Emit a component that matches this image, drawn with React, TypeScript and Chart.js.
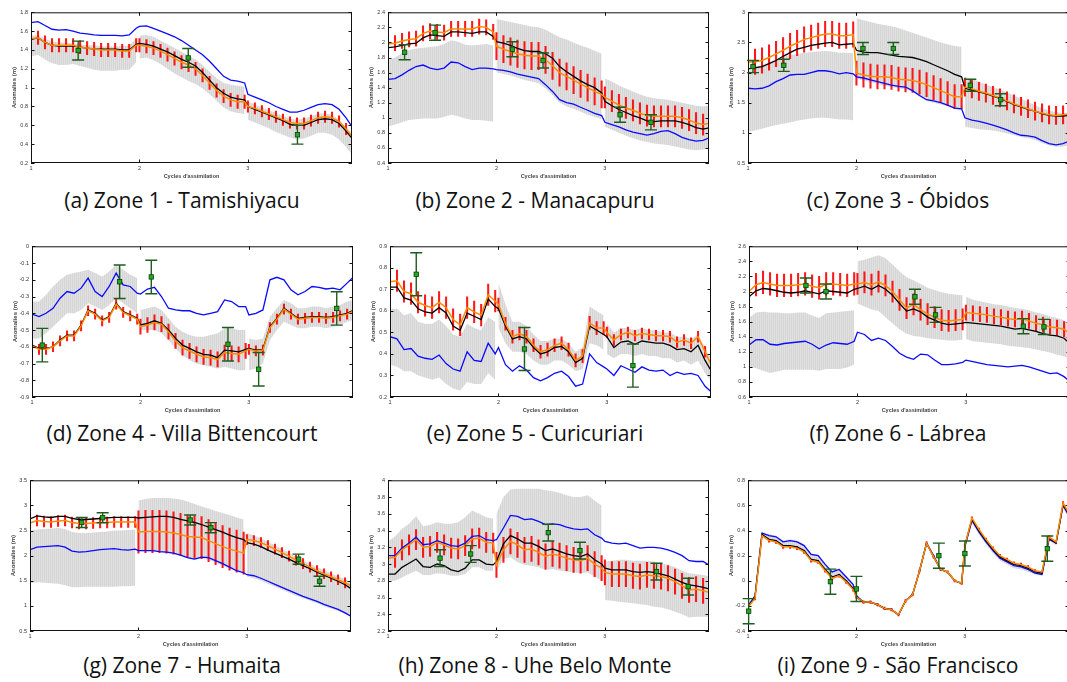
import React, { useEffect, useRef } from "react";
import { Chart, registerables } from "chart.js";
Chart.register(...registerables);
Chart.defaults.font.family = "'Liberation Sans', Arial, sans-serif";

// ---- sampling grid: 16 analyses per assimilation cycle ----
const CYCLES = [1, 2, 3];
const PER_CYCLE = 16;
const CYCLE_SPAN = 0.97;
const XS = CYCLES.flatMap((c) => Array.from({ length: PER_CYCLE }, (_, k) => c + (k * CYCLE_SPAN) / (PER_CYCLE - 1)));
const X_MIN = 1;
const X_MAX = 3.96;
const OBS_ERR = 0.1;

// ---- Zone 1 - Tamishiyacu ----
const A_BLUE = [1.69,1.70,1.66,1.62,1.61,1.615,1.60,1.58, 1.57,1.56,1.555,1.555,1.555,1.55,1.56,1.63, 1.65,1.655,1.63,1.60,1.57,1.54,1.50,1.45, 1.40,1.35,1.28,1.20,1.12,1.08,1.07,1.05, 0.93,0.90,0.87,0.84,0.80,0.77,0.74,0.74, 0.76,0.79,0.82,0.83,0.82,0.77,0.68,0.57];
const A_BLACK = [1.51,1.53,1.48,1.45,1.44,1.44,1.44,1.43, 1.42,1.41,1.41,1.41,1.41,1.40,1.40,1.46, 1.47,1.46,1.44,1.41,1.38,1.34,1.30,1.27, 1.23,1.16,1.08,1.00,0.94,0.90,0.88,0.87, 0.80,0.77,0.74,0.71,0.68,0.65,0.61,0.60, 0.60,0.63,0.66,0.67,0.66,0.62,0.54,0.45];
const A_ORANGE = [1.52,1.53,1.48,1.45,1.45,1.45,1.45,1.43, 1.42,1.41,1.40,1.40,1.40,1.39,1.39,1.45, 1.45,1.44,1.42,1.39,1.35,1.31,1.27,1.24, 1.20,1.13,1.05,0.97,0.91,0.87,0.85,0.85, 0.80,0.78,0.75,0.72,0.69,0.66,0.63,0.62, 0.62,0.65,0.68,0.69,0.68,0.64,0.56,0.47];
const A_HI = [1.55,1.56,1.52,1.49,1.48,1.48,1.47,1.46, 1.45,1.45,1.44,1.44,1.44,1.44,1.45,1.52, 1.55,1.56,1.54,1.50,1.46,1.42,1.38,1.34, 1.30,1.24,1.17,1.10,1.05,1.03,1.02,1.01, 0.85,0.82,0.79,0.76,0.73,0.70,0.67,0.66, 0.67,0.70,0.72,0.73,0.71,0.66,0.58,0.50];
const A_LO = [1.33,1.35,1.30,1.26,1.24,1.24,1.25,1.23, 1.21,1.19,1.18,1.18,1.18,1.19,1.19,1.27, 1.31,1.32,1.29,1.25,1.20,1.15,1.11,1.07, 1.04,0.99,0.93,0.86,0.79,0.75,0.73,0.72, 0.66,0.63,0.60,0.57,0.53,0.50,0.47,0.45, 0.46,0.49,0.52,0.52,0.50,0.45,0.37,0.28];
const A_RED_HW = [0.07, 0.07, 0.06];
const A_OBS_X = [1.435, 2.45, 3.457];
const A_OBS_Y = [1.394, 1.316, 0.50];

// ---- Zone 2 - Manacapuru ----
const B_BLUE = [1.51,1.52,1.57,1.63,1.68,1.70,1.66,1.64, 1.66,1.74,1.73,1.68,1.64,1.66,1.66,1.65, 1.64,1.63,1.61,1.58,1.56,1.54,1.52,1.44, 1.35,1.24,1.20,1.18,1.14,1.10,1.06,1.03, 0.94,0.91,0.88,0.84,0.81,0.79,0.77,0.79, 0.82,0.83,0.79,0.74,0.71,0.69,0.70,0.74];
const B_BLACK = [1.93,1.94,1.96,1.98,1.99,2.06,2.10,2.09, 2.08,2.14,2.14,2.13,2.12,2.14,2.14,2.08, 2.01,1.99,1.96,1.92,1.89,1.88,1.88,1.85, 1.79,1.68,1.61,1.55,1.49,1.44,1.40,1.33, 1.22,1.16,1.11,1.07,1.03,1.00,0.96,0.95, 0.96,0.96,0.96,0.94,0.91,0.87,0.85,0.87];
const B_ORANGE = [1.98,1.99,2.02,2.04,2.05,2.12,2.15,2.14, 2.13,2.18,2.18,2.18,2.18,2.21,2.20,2.14, 1.95,1.91,1.88,1.85,1.83,1.82,1.82,1.77, 1.69,1.60,1.55,1.50,1.45,1.40,1.35,1.31, 1.27,1.22,1.17,1.13,1.10,1.06,1.03,1.02, 1.02,1.02,1.02,1.00,0.97,0.93,0.91,0.93];
const B_HI = [1.76,1.80,1.86,1.90,1.92,1.93,1.94,1.95, 1.98,2.03,2.01,1.97,1.96,1.97,1.98,1.96, 2.31,2.29,2.27,2.25,2.23,2.21,2.20,2.17, 2.12,2.07,2.04,2.00,1.96,1.93,1.89,1.85, 1.52,1.48,1.43,1.39,1.35,1.31,1.28,1.26, 1.25,1.24,1.22,1.20,1.18,1.16,1.15,1.16];
const B_LO = [0.88,0.91,0.94,0.97,0.98,0.99,0.99,0.99, 1.01,1.04,1.02,0.99,0.97,0.97,0.96,0.95, 1.60,1.58,1.56,1.53,1.50,1.48,1.46,1.39, 1.30,1.20,1.15,1.12,1.08,1.04,1.01,0.98, 0.88,0.84,0.80,0.76,0.73,0.70,0.68,0.66, 0.65,0.64,0.62,0.60,0.58,0.57,0.58,0.60];
const B_RED_HW = [0.1, 0.18, 0.14];
const B_OBS_X = [1.153, 1.434, 2.147, 2.43, 3.14, 3.425];
const B_OBS_Y = [1.87, 2.13, 1.91, 1.76, 1.04, 0.94];

// ---- Zone 3 - Óbidos ----
const C_BLUE = [1.74,1.73,1.74,1.78,1.85,1.90,1.96,1.97, 1.97,2.00,2.03,2.03,2.01,1.98,2.00,1.98, 1.93,1.91,1.88,1.85,1.82,1.79,1.77,1.76, 1.70,1.62,1.55,1.53,1.50,1.46,1.41,1.40, 1.25,1.21,1.19,1.16,1.13,1.09,1.05,1.00, 0.96,0.95,0.93,0.87,0.82,0.80,0.82,0.87];
const C_BLACK = [2.06,2.08,2.10,2.15,2.20,2.27,2.33,2.39, 2.42,2.45,2.47,2.49,2.50,2.46,2.47,2.48, 2.37,2.34,2.33,2.33,2.31,2.29,2.27,2.26, 2.25,2.22,2.18,2.13,2.08,2.03,1.97,1.93, 1.74,1.71,1.68,1.65,1.61,1.57,1.52,1.47, 1.43,1.39,1.36,1.32,1.29,1.28,1.28,1.29];
const C_ORANGE = [2.17,2.18,2.20,2.25,2.31,2.37,2.44,2.49, 2.55,2.58,2.61,2.64,2.64,2.61,2.61,2.63, 1.99,1.96,1.94,1.93,1.93,1.92,1.89,1.88, 1.87,1.84,1.80,1.75,1.70,1.65,1.60,1.60, 1.76,1.73,1.69,1.66,1.62,1.58,1.53,1.48, 1.44,1.40,1.36,1.33,1.30,1.29,1.30,1.31];
const C_HI = [2.02,2.06,2.12,2.17,2.22,2.26,2.29,2.31, 2.33,2.34,2.35,2.36,2.35,2.33,2.33,2.32, 2.90,2.87,2.84,2.81,2.79,2.77,2.74,2.70, 2.66,2.62,2.58,2.54,2.50,2.47,2.44,2.43, 1.93,1.89,1.85,1.80,1.76,1.72,1.67,1.62, 1.57,1.51,1.46,1.41,1.37,1.34,1.33,1.34];
const C_LO = [1.02,1.04,1.07,1.10,1.13,1.15,1.17,1.20, 1.22,1.24,1.25,1.25,1.24,1.22,1.22,1.21, 1.90,1.87,1.84,1.81,1.78,1.76,1.74,1.72, 1.68,1.60,1.53,1.50,1.47,1.44,1.39,1.38, 1.10,1.08,1.06,1.05,1.04,1.02,0.99,0.96, 0.93,0.91,0.88,0.83,0.79,0.77,0.77,0.80];
const C_RED_HW = [0.21, 0.2, 0.15];
const C_OBS_X = [1.046, 1.33, 2.06, 2.34, 3.05, 3.33];
const C_OBS_Y = [2.10, 2.12, 2.40, 2.40, 1.79, 1.55];

// ---- Zone 4 - Villa Bittencourt ----
const D_BLUE = [-0.405,-0.42,-0.40,-0.37,-0.31,-0.27,-0.28,-0.25, -0.19,-0.27,-0.30,-0.24,-0.16,-0.23,-0.24,-0.28, -0.285,-0.255,-0.245,-0.30,-0.37,-0.38,-0.385,-0.385, -0.40,-0.41,-0.40,-0.39,-0.32,-0.33,-0.36,-0.36, -0.41,-0.40,-0.38,-0.20,-0.185,-0.20,-0.26,-0.29, -0.27,-0.24,-0.245,-0.255,-0.25,-0.26,-0.22,-0.18];
const D_BLACK = [-0.59,-0.61,-0.61,-0.60,-0.56,-0.53,-0.53,-0.47, -0.38,-0.40,-0.44,-0.42,-0.34,-0.39,-0.41,-0.43, -0.47,-0.46,-0.445,-0.46,-0.50,-0.55,-0.59,-0.61, -0.63,-0.645,-0.65,-0.665,-0.62,-0.625,-0.63,-0.615, -0.61,-0.62,-0.615,-0.48,-0.43,-0.37,-0.40,-0.43, -0.425,-0.42,-0.42,-0.425,-0.42,-0.41,-0.40,-0.38];
const D_ORANGE = [-0.595,-0.615,-0.615,-0.60,-0.565,-0.535,-0.535,-0.475, -0.385,-0.405,-0.445,-0.425,-0.345,-0.395,-0.415,-0.435, -0.48,-0.47,-0.455,-0.465,-0.51,-0.565,-0.605,-0.625, -0.645,-0.66,-0.665,-0.675,-0.635,-0.64,-0.645,-0.625, -0.615,-0.625,-0.62,-0.485,-0.435,-0.375,-0.405,-0.435, -0.43,-0.425,-0.425,-0.43,-0.425,-0.415,-0.405,-0.385];
const D_HI = [-0.33,-0.33,-0.29,-0.24,-0.20,-0.17,-0.16,-0.15, -0.14,-0.16,-0.18,-0.15,-0.11,-0.14,-0.17,-0.19, -0.38,-0.37,-0.36,-0.38,-0.43,-0.48,-0.51,-0.53, -0.54,-0.54,-0.53,-0.52,-0.49,-0.49,-0.50,-0.50, -0.55,-0.56,-0.55,-0.42,-0.37,-0.32,-0.34,-0.37, -0.37,-0.36,-0.36,-0.37,-0.36,-0.35,-0.33,-0.32];
const D_LO = [-0.55,-0.55,-0.52,-0.48,-0.44,-0.40,-0.40,-0.38, -0.34,-0.36,-0.38,-0.35,-0.31,-0.34,-0.37,-0.40, -0.50,-0.50,-0.50,-0.52,-0.56,-0.61,-0.65,-0.68, -0.70,-0.71,-0.72,-0.73,-0.72,-0.73,-0.74,-0.74, -0.74,-0.73,-0.70,-0.56,-0.50,-0.45,-0.47,-0.49, -0.49,-0.48,-0.48,-0.49,-0.48,-0.47,-0.45,-0.44];
const D_RED_HW = [0.03, 0.045, 0.03];
const D_OBS_X = [1.095, 1.808, 2.10, 2.807, 3.09, 3.81];
const D_OBS_Y = [-0.59, -0.212, -0.183, -0.585, -0.734, -0.371];

// ---- Zone 5 - Curicuriari ----
const E_BLUE = [0.48,0.47,0.42,0.425,0.39,0.38,0.375,0.395, 0.355,0.33,0.32,0.41,0.37,0.365,0.45,0.40, 0.43,0.35,0.32,0.345,0.325,0.29,0.275,0.29, 0.31,0.32,0.295,0.25,0.26,0.40,0.36,0.34, 0.33,0.30,0.345,0.33,0.315,0.34,0.325,0.32, 0.325,0.30,0.315,0.305,0.31,0.30,0.25,0.22];
const E_BLACK = [0.71,0.71,0.66,0.65,0.61,0.595,0.59,0.615, 0.59,0.53,0.51,0.59,0.575,0.56,0.655,0.62, 0.61,0.53,0.47,0.48,0.47,0.43,0.40,0.41, 0.43,0.435,0.41,0.36,0.38,0.53,0.51,0.49, 0.48,0.43,0.455,0.46,0.445,0.46,0.455,0.45, 0.45,0.44,0.42,0.425,0.41,0.44,0.37,0.315];
const E_ORANGE = [0.735,0.74,0.69,0.68,0.64,0.625,0.615,0.64, 0.615,0.56,0.535,0.615,0.595,0.58,0.675,0.645, 0.63,0.54,0.48,0.495,0.48,0.44,0.41,0.42, 0.44,0.45,0.42,0.37,0.39,0.545,0.52,0.52, 0.50,0.465,0.49,0.50,0.485,0.495,0.49,0.485, 0.485,0.48,0.455,0.465,0.45,0.48,0.41,0.34];
const E_HI = [0.61,0.61,0.58,0.59,0.55,0.54,0.54,0.56, 0.53,0.49,0.48,0.54,0.52,0.51,0.57,0.55, 0.73,0.63,0.55,0.55,0.53,0.49,0.46,0.46, 0.47,0.47,0.45,0.41,0.43,0.62,0.60,0.58, 0.54,0.50,0.52,0.52,0.51,0.52,0.51,0.51, 0.50,0.50,0.48,0.48,0.47,0.49,0.43,0.37];
const E_LO = [0.35,0.34,0.32,0.32,0.30,0.29,0.28,0.29, 0.26,0.24,0.23,0.27,0.26,0.26,0.31,0.28, 0.52,0.45,0.41,0.41,0.40,0.37,0.35,0.35, 0.37,0.37,0.35,0.32,0.33,0.45,0.44,0.42, 0.40,0.38,0.40,0.40,0.39,0.40,0.39,0.39, 0.38,0.38,0.36,0.37,0.35,0.37,0.31,0.27];
const E_RED_HW = [0.05, 0.03, 0.025];
const E_OBS_X = [1.242, 2.24, 3.24];
const E_OBS_Y = [0.77, 0.423, 0.346];

// ---- Zone 6 - Lábrea ----
const F_BLUE = [1.29,1.36,1.36,1.30,1.29,1.31,1.32,1.33, 1.34,1.30,1.24,1.29,1.32,1.31,1.30,1.34, 1.46,1.43,1.35,1.38,1.35,1.27,1.18,1.13, 1.10,1.17,1.16,1.09,1.03,1.03,1.04,1.06, 1.09,1.07,1.05,1.03,1.02,1.01,1.00,1.01, 1.02,1.00,0.97,0.94,0.91,0.92,0.87,0.79];
const F_BLACK = [1.93,2.01,2.04,2.03,2.01,1.99,1.98,1.99, 2.01,1.99,1.97,2.01,2.00,1.99,1.98,2.03, 2.04,2.07,2.03,2.08,2.03,1.95,1.84,1.74, 1.77,1.73,1.66,1.62,1.58,1.56,1.57,1.58, 1.59,1.58,1.57,1.56,1.55,1.54,1.52,1.50, 1.51,1.49,1.47,1.44,1.42,1.41,1.38,1.29];
const F_ORANGE = [2.00,2.09,2.12,2.10,2.08,2.08,2.08,2.09, 2.10,2.07,2.05,2.10,2.10,2.09,2.08,2.10, 2.10,2.12,2.09,2.13,2.08,2.00,1.89,1.78, 1.83,1.76,1.70,1.66,1.62,1.61,1.62,1.63, 1.72,1.71,1.70,1.69,1.67,1.66,1.64,1.63, 1.64,1.61,1.58,1.56,1.53,1.52,1.50,1.42];
const F_HI = [1.65,1.72,1.73,1.72,1.72,1.71,1.71,1.72, 1.72,1.68,1.65,1.71,1.72,1.73,1.74,1.75, 2.40,2.42,2.45,2.48,2.44,2.36,2.27,2.19, 2.15,2.10,2.05,2.02,1.99,1.97,1.96,1.95, 1.93,1.89,1.87,1.85,1.83,1.82,1.80,1.78, 1.77,1.75,1.72,1.70,1.67,1.65,1.62,1.55];
const F_LO = [1.00,0.98,0.95,0.92,0.94,0.96,0.96,0.96, 0.96,0.96,0.95,0.97,0.97,0.97,0.99,1.03, 1.84,1.80,1.76,1.74,1.66,1.58,1.50,1.44, 1.41,1.40,1.38,1.37,1.36,1.35,1.35,1.36, 1.37,1.34,1.33,1.32,1.31,1.30,1.28,1.27, 1.26,1.25,1.23,1.21,1.19,1.16,1.14,1.10];
const F_RED_HW = [0.15, 0.14, 0.1];
const F_OBS_X = [1.525, 1.71, 2.53, 2.72, 3.53, 3.72];
const F_OBS_Y = [2.08, 2.00, 1.93, 1.69, 1.54, 1.53];

// ---- Zone 7 - Humaita ----
const G_BLUE = [2.12,2.17,2.18,2.19,2.20,2.17,2.09,2.07, 2.08,2.10,2.12,2.13,2.14,2.12,2.11,2.13, 2.10,2.10,2.10,2.08,2.07,2.05,2.01,1.96, 1.93,1.97,1.96,1.90,1.84,1.77,1.70,1.66, 1.62,1.60,1.55,1.49,1.43,1.37,1.31,1.25, 1.19,1.14,1.09,1.03,0.98,0.93,0.86,0.78];
const G_BLACK = [2.73,2.79,2.77,2.76,2.78,2.78,2.74,2.72, 2.72,2.73,2.74,2.75,2.76,2.76,2.76,2.76, 2.75,2.76,2.77,2.78,2.78,2.76,2.72,2.69, 2.66,2.62,2.57,2.52,2.47,2.41,2.36,2.32, 2.26,2.23,2.18,2.11,2.05,1.99,1.93,1.86, 1.80,1.74,1.67,1.61,1.55,1.49,1.42,1.33];
const G_ORANGE = [2.65,2.70,2.68,2.67,2.69,2.70,2.66,2.64, 2.64,2.65,2.66,2.66,2.67,2.67,2.67,2.67, 2.47,2.48,2.48,2.48,2.47,2.45,2.42,2.38, 2.37,2.36,2.30,2.24,2.18,2.13,2.09,2.05, 2.32,2.30,2.26,2.20,2.13,2.06,1.99,1.91, 1.84,1.77,1.70,1.64,1.58,1.52,1.46,1.39];
const G_HI = [2.50,2.52,2.53,2.54,2.55,2.53,2.47,2.45, 2.45,2.46,2.47,2.48,2.50,2.50,2.51,2.52, 3.10,3.13,3.15,3.15,3.15,3.14,3.12,3.08, 3.03,2.98,2.94,2.89,2.85,2.81,2.76,2.72, 2.45,2.40,2.34,2.27,2.20,2.13,2.06,1.98, 1.91,1.84,1.77,1.71,1.65,1.59,1.53,1.46];
const G_LO = [1.45,1.47,1.46,1.45,1.44,1.41,1.37,1.37, 1.38,1.38,1.38,1.38,1.38,1.39,1.39,1.40, 2.10,2.10,2.09,2.08,2.06,2.04,2.00,1.95, 1.92,1.94,1.92,1.86,1.80,1.74,1.68,1.64, 1.58,1.55,1.50,1.44,1.38,1.32,1.26,1.20, 1.15,1.10,1.05,0.99,0.95,0.90,0.84,0.77];
const G_RED_HW = [0.11, 0.42, 0.1];
const G_OBS_X = [1.477, 1.67, 2.477, 2.668, 3.477, 3.67];
const G_OBS_Y = [2.66, 2.755, 2.71, 2.557, 1.93, 1.49];

// ---- Zone 8 - Uhe Belo Monte ----
const H_BLUE = [3.10,3.10,3.19,3.25,3.32,3.23,3.24,3.28, 3.25,3.22,3.21,3.25,3.33,3.34,3.29,3.28, 3.29,3.43,3.58,3.57,3.53,3.54,3.51,3.47, 3.48,3.47,3.44,3.42,3.41,3.42,3.35,3.31, 3.27,3.25,3.24,3.25,3.22,3.19,3.20,3.20, 3.19,3.17,3.14,3.10,3.04,3.03,3.03,2.98];
const H_BLACK = [2.88,2.88,2.96,3.01,3.06,2.97,2.96,3.00, 2.98,2.93,2.91,2.95,3.05,3.05,3.00,2.99, 3.03,3.24,3.34,3.30,3.25,3.25,3.21,3.16, 3.18,3.15,3.12,3.10,3.09,3.12,3.05,3.00, 2.95,2.93,2.93,2.93,2.91,2.90,2.91,2.90, 2.88,2.86,2.82,2.78,2.75,2.74,2.72,2.70];
const H_ORANGE = [3.07,3.08,3.17,3.23,3.29,3.20,3.21,3.26, 3.23,3.19,3.18,3.22,3.30,3.31,3.26,3.25, 2.99,3.17,3.27,3.23,3.17,3.18,3.14,3.09, 3.12,3.10,3.07,3.05,3.04,3.07,3.00,2.95, 2.90,2.88,2.88,2.88,2.86,2.85,2.87,2.86, 2.85,2.83,2.79,2.74,2.69,2.70,2.68,2.66];
const H_HI = [3.27,3.33,3.42,3.48,3.57,3.45,3.47,3.50, 3.48,3.48,3.50,3.56,3.64,3.60,3.56,3.54, 3.60,3.80,3.89,3.90,3.90,3.90,3.90,3.88, 3.87,3.85,3.82,3.80,3.80,3.82,3.76,3.70, 3.03,3.04,3.05,3.05,3.04,3.04,3.04,3.03, 3.01,2.99,2.96,2.92,2.89,2.88,2.87,2.85];
const H_LO = [2.80,2.80,2.84,2.88,2.92,2.87,2.87,2.89, 2.88,2.86,2.86,2.88,2.96,2.96,2.92,2.92, 2.92,3.06,3.08,3.02,2.99,2.98,2.96,2.93, 2.94,2.92,2.91,2.90,2.89,2.90,2.85,2.80, 2.57,2.56,2.55,2.54,2.53,2.52,2.51,2.49, 2.48,2.46,2.43,2.40,2.36,2.37,2.37,2.37];
const H_RED_HW = [0.12, 0.15, 0.15];
const H_OBS_X = [1.48, 1.762, 2.478, 2.77, 3.476, 3.768];
const H_OBS_Y = [3.07, 3.12, 3.375, 3.16, 2.91, 2.73];

// ---- Zone 9 - São Francisco ----
const I_BLUE = [-0.20,-0.12,0.38,0.36,0.35,0.31,0.32,0.31, 0.28,0.21,0.20,0.13,0.07,0.09,0.03,-0.03, -0.12,-0.17,-0.17,-0.19,-0.22,-0.23,-0.27,-0.16, -0.11,0.08,0.30,0.20,0.09,0.07,0.00,-0.02, 0.27,0.48,0.39,0.31,0.24,0.18,0.15,0.12, 0.11,0.09,0.06,0.05,0.33,0.30,0.60,0.50];
const I_BLACK = [-0.21,-0.13,0.37,0.33,0.32,0.28,0.28,0.27, 0.24,0.17,0.16,0.09,0.03,0.05,0.00,-0.06, -0.13,-0.17,-0.17,-0.19,-0.22,-0.23,-0.27,-0.16, -0.11,0.08,0.30,0.19,0.09,0.07,0.00,-0.02, 0.28,0.49,0.40,0.32,0.25,0.19,0.16,0.13, 0.12,0.10,0.07,0.06,0.34,0.30,0.61,0.51];
const I_ORANGE = [-0.21,-0.14,0.36,0.32,0.31,0.27,0.27,0.26, 0.23,0.16,0.15,0.08,0.02,0.04,-0.01,-0.07, -0.13,-0.17,-0.17,-0.19,-0.22,-0.23,-0.27,-0.16, -0.11,0.08,0.30,0.19,0.09,0.07,0.00,-0.02, 0.28,0.50,0.41,0.33,0.26,0.20,0.17,0.14, 0.13,0.11,0.08,0.07,0.35,0.31,0.62,0.52];
const I_HI = [-0.19,-0.11,0.39,0.37,0.36,0.32,0.33,0.32, 0.29,0.22,0.21,0.14,0.08,0.10,0.04,-0.02, -0.11,-0.16,-0.16,-0.18,-0.21,-0.22,-0.26,-0.15, -0.10,0.09,0.31,0.20,0.10,0.08,0.01,-0.01, 0.29,0.50,0.41,0.33,0.26,0.20,0.17,0.14, 0.13,0.11,0.08,0.07,0.35,0.31,0.62,0.52];
const I_LO = [-0.22,-0.15,0.35,0.31,0.30,0.26,0.26,0.25, 0.22,0.15,0.14,0.07,0.01,0.03,-0.02,-0.08, -0.14,-0.18,-0.18,-0.20,-0.23,-0.24,-0.28,-0.17, -0.12,0.07,0.29,0.18,0.08,0.06,-0.01,-0.03, 0.26,0.46,0.37,0.29,0.22,0.16,0.13,0.10, 0.09,0.07,0.05,0.04,0.32,0.28,0.58,0.48];
const I_RED_HW = [0.012, 0.01, 0.01];
const I_OBS_X = [1.006, 1.76, 2.0, 2.76, 3.0, 3.76];
const I_OBS_Y = [-0.242, -0.007, -0.065, 0.20, 0.217, 0.256];

const CAPTIONS = [
  "(a) Zone 1 - Tamishiyacu", "(b) Zone 2 - Manacapuru", "(c) Zone 3 - Óbidos",
  "(d) Zone 4 - Villa Bittencourt", "(e) Zone 5 - Curicuriari", "(f) Zone 6 - Lábrea",
  "(g) Zone 7 - Humaita", "(h) Zone 8 - Uhe Belo Monte", "(i) Zone 9 - São Francisco",
];
const Y_TITLE = "Anomalies (m)";
const X_TITLE = "Cycles d'assimilation";

type PanelData = {
  blue: number[]; black: number[]; orange: number[]; hi: number[]; lo: number[];
  redHw: number[]; obsX: number[]; obsY: number[]; yMin: number; yMax: number; yStep: number;
};

const PANELS: PanelData[] = [
  { blue: A_BLUE, black: A_BLACK, orange: A_ORANGE, hi: A_HI, lo: A_LO, redHw: A_RED_HW, obsX: A_OBS_X, obsY: A_OBS_Y, yMin: 0.2, yMax: 1.8, yStep: 0.2 },
  { blue: B_BLUE, black: B_BLACK, orange: B_ORANGE, hi: B_HI, lo: B_LO, redHw: B_RED_HW, obsX: B_OBS_X, obsY: B_OBS_Y, yMin: 0.4, yMax: 2.4, yStep: 0.2 },
  { blue: C_BLUE, black: C_BLACK, orange: C_ORANGE, hi: C_HI, lo: C_LO, redHw: C_RED_HW, obsX: C_OBS_X, obsY: C_OBS_Y, yMin: 0.5, yMax: 3, yStep: 0.5 },
  { blue: D_BLUE, black: D_BLACK, orange: D_ORANGE, hi: D_HI, lo: D_LO, redHw: D_RED_HW, obsX: D_OBS_X, obsY: D_OBS_Y, yMin: -0.9, yMax: 0, yStep: 0.1 },
  { blue: E_BLUE, black: E_BLACK, orange: E_ORANGE, hi: E_HI, lo: E_LO, redHw: E_RED_HW, obsX: E_OBS_X, obsY: E_OBS_Y, yMin: 0.2, yMax: 0.9, yStep: 0.1 },
  { blue: F_BLUE, black: F_BLACK, orange: F_ORANGE, hi: F_HI, lo: F_LO, redHw: F_RED_HW, obsX: F_OBS_X, obsY: F_OBS_Y, yMin: 0.6, yMax: 2.6, yStep: 0.2 },
  { blue: G_BLUE, black: G_BLACK, orange: G_ORANGE, hi: G_HI, lo: G_LO, redHw: G_RED_HW, obsX: G_OBS_X, obsY: G_OBS_Y, yMin: 0.5, yMax: 3.5, yStep: 0.5 },
  { blue: H_BLUE, black: H_BLACK, orange: H_ORANGE, hi: H_HI, lo: H_LO, redHw: H_RED_HW, obsX: H_OBS_X, obsY: H_OBS_Y, yMin: 2.2, yMax: 4, yStep: 0.2 },
  { blue: I_BLUE, black: I_BLACK, orange: I_ORANGE, hi: I_HI, lo: I_LO, redHw: I_RED_HW, obsX: I_OBS_X, obsY: I_OBS_Y, yMin: -0.4, yMax: 0.8, yStep: 0.2 },
];

// ---- layout (plot-area boxes in page pixels) ----
const BOXES = [
  { l: 31, t: 12 }, { l: 388, t: 12 }, { l: 748, t: 12 },
  { l: 32, t: 246 }, { l: 390, t: 246 }, { l: 749, t: 246 },
  { l: 30, t: 480 }, { l: 388, t: 480 }, { l: 748, t: 480 },
];
const PLOT_W = 321;
const PLOT_H = 151;
const PAD_L = 20;
const PAD_T = 6;
const PAD_R = 4;
const PAD_B = 17;
const CAP_CX = [182, 535, 898];
const CAP_TOP = [190, 423, 655];

const framePlugin = {
  id: "gnuFrame",
  afterDatasetsDraw(chart: any) {
    const { ctx, chartArea: a, scales } = chart;
    ctx.save();
    ctx.strokeStyle = "#111";
    ctx.lineWidth = 1;
    ctx.strokeRect(a.left + 0.5, a.top + 0.5, a.right - a.left - 1, a.bottom - a.top - 1);
    ctx.beginPath();
    const tl = 3.5;
    for (const t of scales.y.ticks) {
      const py = Math.round(scales.y.getPixelForValue(t.value)) + 0.5;
      ctx.moveTo(a.left, py); ctx.lineTo(a.left + tl, py);
      ctx.moveTo(a.right, py); ctx.lineTo(a.right - tl, py);
    }
    for (const t of scales.x.ticks) {
      const px = Math.round(scales.x.getPixelForValue(t.value)) + 0.5;
      ctx.moveTo(px, a.bottom); ctx.lineTo(px, a.bottom - tl);
      ctx.moveTo(px, a.top); ctx.lineTo(px, a.top + tl);
    }
    ctx.stroke();
    ctx.restore();
  },
};

const obsPlugin = {
  id: "obsBars",
  afterDatasetsDraw(chart: any, _args: any, opts: any) {
    const { ctx, scales } = chart;
    const xs: number[] = opts.xs || [];
    const ys: number[] = opts.ys || [];
    ctx.save();
    for (let k = 0; k < xs.length; k++) {
      const px = scales.x.getPixelForValue(xs[k]);
      const py = scales.y.getPixelForValue(ys[k]);
      const pt = scales.y.getPixelForValue(ys[k] + OBS_ERR);
      const pb = scales.y.getPixelForValue(ys[k] - OBS_ERR);
      ctx.strokeStyle = "#1f5c1f";
      ctx.lineWidth = 1.4;
      ctx.beginPath();
      ctx.moveTo(px, pt); ctx.lineTo(px, pb);
      ctx.moveTo(px - 6, pt); ctx.lineTo(px + 6, pt);
      ctx.moveTo(px - 6, pb); ctx.lineTo(px + 6, pb);
      ctx.stroke();
      ctx.fillStyle = "#1faa1f";
      ctx.strokeStyle = "#0d3d0d";
      ctx.lineWidth = 0.8;
      ctx.fillRect(px - 2.2, py - 2.2, 4.4, 4.4);
      ctx.strokeRect(px - 2.2, py - 2.2, 4.4, 4.4);
    }
    ctx.restore();
  },
};

const fmt = (v: number) => String(Math.round(v * 100) / 100);

// band series split at each cycle start so that each cycle's spread is drawn on its own
const withCycleBreaks = (vals: number[]) => {
  const out: { x: number; y: number | null }[] = [];
  XS.forEach((x, i) => {
    if (i > 0 && i % PER_CYCLE === 0) out.push({ x: x - 0.01, y: null });
    out.push({ x, y: vals[i] });
  });
  return out;
};

function makeStripePattern(): CanvasPattern | string {
  const pc = document.createElement("canvas");
  pc.width = 2;
  pc.height = 4;
  const c = pc.getContext("2d");
  if (!c) return "#dadada";
  c.fillStyle = "#d5d5d5";
  c.fillRect(0, 0, 2, 4);
  c.fillStyle = "#e1e1e1";
  c.fillRect(1, 0, 1, 4);
  return c.createPattern(pc, "repeat") || "#dadada";
}

function PanelChart({ p, idx }: { p: PanelData; idx: number }) {
  const ref = useRef<HTMLCanvasElement>(null);
  const box = BOXES[idx];
  const w = PLOT_W + PAD_L + PAD_R;
  const h = PLOT_H + PAD_T + PAD_B;
  useEffect(() => {
    if (!ref.current) return;
    const cyc = (i: number) => Math.floor(i / PER_CYCLE);
    const stripes = makeStripePattern();
    const chart = new Chart(ref.current, {
      type: "bar",
      data: {
        datasets: [
          {
            type: "line",
            data: withCycleBreaks(p.hi),
            borderColor: "rgba(0,0,0,0)",
            borderWidth: 0,
            pointRadius: 0,
            fill: "+1",
            backgroundColor: stripes,
            spanGaps: false,
            order: 10,
          } as any,
          {
            type: "line",
            data: withCycleBreaks(p.lo),
            borderColor: "rgba(0,0,0,0)",
            borderWidth: 0,
            pointRadius: 0,
            fill: false,
            spanGaps: false,
            order: 10,
          } as any,
          {
            type: "bar",
            data: XS.map((x, i) => ({ x, y: [p.orange[i] - p.redHw[cyc(i)], p.orange[i] + p.redHw[cyc(i)]] })) as any,
            backgroundColor: "rgba(255,0,0,0.9)",
            barThickness: 1.4,
            grouped: false,
            order: 8,
          } as any,
          {
            type: "line",
            data: XS.map((x, i) => ({ x, y: p.blue[i] })),
            borderColor: "#0a0aff",
            borderWidth: 1.3,
            pointRadius: 0,
            tension: 0,
            order: 6,
          } as any,
          {
            type: "line",
            data: XS.map((x, i) => ({ x, y: p.black[i] })),
            borderColor: "#000000",
            borderWidth: 1.3,
            pointRadius: 0,
            tension: 0,
            order: 5,
          } as any,
          {
            type: "line",
            data: XS.map((x, i) => ({ x, y: p.orange[i] })),
            borderColor: "#ff8a00",
            borderWidth: 1.5,
            pointRadius: 0,
            tension: 0,
            order: 4,
          } as any,
        ],
      },
      options: {
        responsive: false,
        animation: false,
        devicePixelRatio: 1,
        events: [],
        layout: { padding: { top: PAD_T, right: PAD_R, left: 0, bottom: 0 } },
        plugins: {
          legend: { display: false },
          tooltip: { enabled: false },
          obsBars: { xs: p.obsX, ys: p.obsY },
        } as any,
        scales: {
          x: {
            type: "linear",
            min: X_MIN,
            max: X_MAX,
            offset: false,
            grid: { display: false, drawTicks: false, offset: false },
            border: { display: false },
            ticks: {
              stepSize: 1,
              includeBounds: false,
              padding: 2,
              maxRotation: 0,
              font: { size: 5.5 },
              color: "#333",
              callback: (v: any) => fmt(Number(v)),
            },
            title: { display: true, text: X_TITLE, font: { size: 5.5, weight: "bold" }, color: "#444", padding: 0 },
            afterFit: (s: any) => { s.height = PAD_B; },
          },
          y: {
            type: "linear",
            min: p.yMin,
            max: p.yMax,
            grid: { display: false, drawTicks: false },
            border: { display: false },
            ticks: {
              stepSize: p.yStep,
              padding: 3,
              autoSkip: false,
              font: { size: 5.5 },
              color: "#333",
              callback: (v: any) => fmt(Number(v)),
            },
            title: { display: true, text: Y_TITLE, font: { size: 6, weight: "bold" }, color: "#444", padding: 0 },
            afterFit: (s: any) => { s.width = PAD_L; },
          },
        },
      } as any,
      plugins: [framePlugin, obsPlugin],
    });
    return () => chart.destroy();
  }, [p]);
  return (
    <div style={{ position: "absolute", left: box.l - PAD_L, top: box.t - PAD_T, width: w, height: h }}>
      <canvas ref={ref} width={w} height={h} style={{ display: "block" }} />
    </div>
  );
}

export default function App() {
  return (
    <div style={{ position: "absolute", left: 0, top: 0, width: 1067, height: 682, overflow: "hidden", background: "#fff" }}>
      {PANELS.map((p, i) => (
        <PanelChart key={i} p={p} idx={i} />
      ))}
      {CAPTIONS.map((c, i) => (
        <div
          key={"c" + i}
          style={{
            position: "absolute",
            left: CAP_CX[i % 3] - 200,
            width: 400,
            top: CAP_TOP[Math.floor(i / 3)],
            textAlign: "center",
            fontFamily: "'Open Sans', 'Noto Sans', sans-serif",
            fontSize: 21,
            lineHeight: "21px",
            color: "#111",
            whiteSpace: "nowrap",
          }}
        >
          {c}
        </div>
      ))}
    </div>
  );
}
